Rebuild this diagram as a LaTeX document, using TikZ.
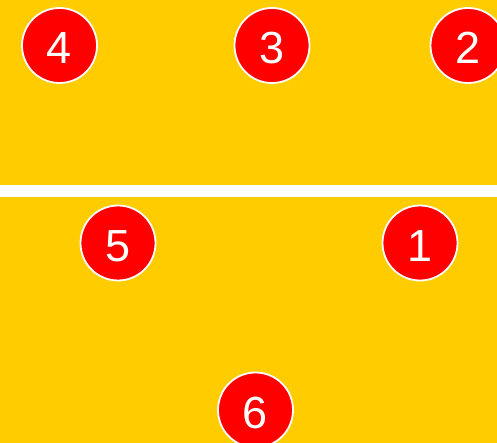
\documentclass[tikz,border=0pt]{standalone}
\usepackage{fontspec}
\setmainfont{Liberation Sans}
\usepackage{xcolor}
\definecolor{court}{HTML}{FFCC00}
\definecolor{shirt}{HTML}{FF0000}
\tikzset{player/.style={circle,draw=white,fill=shirt,line width=1.8pt,inner sep=0pt,minimum size=75pt,text=white,text height=37pt,text depth=0pt,font=\fontsize{45}{45}\selectfont}}

\begin{document}
\begin{tikzpicture}[x=1pt,y=-1pt]
  \fill[court] (0,0) rectangle (497,443);
  \useasboundingbox (0,0) rectangle (497,443);
  \fill[white] (0,185) rectangle (497,197);
  \node[player] (p4) at (59.5,45.5) {4};
  \node[player] (p3) at (272,45.5) {3};
  \node[player] (p2) at (468,45.5) {2};
  \node[player] (p5) at (118,243) {5};
  \node[player] (p1) at (420,243) {1};
  \node[player] (p6) at (255.5,410) {6};
\end{tikzpicture}
\end{document}
